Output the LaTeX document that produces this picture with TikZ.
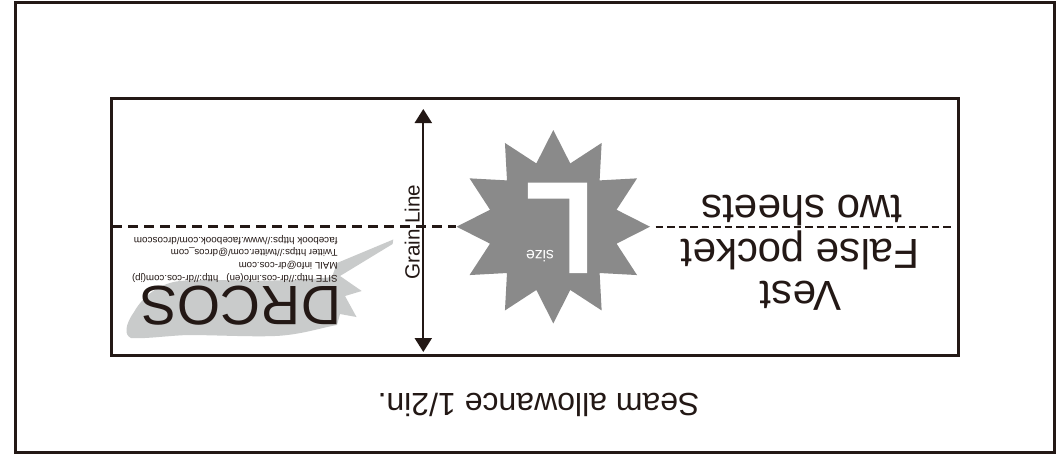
\documentclass[tikz,border=0pt]{standalone}
\usepackage{fontspec}
\setmainfont{Liberation Sans}
\usetikzlibrary{arrows.meta}
\definecolor{ink}{HTML}{231815}
\definecolor{stargray}{HTML}{8A8A8A}
\definecolor{blobgray}{HTML}{C9CBCB}
\tikzset{
  x=1pt,y=-1pt,
  frame/.style={draw=ink,line width=2.4pt,fill=none},
  flipped/.style={rotate=180,text=ink,inner sep=0pt,outer sep=0pt},
  foldleft/.style={draw=ink,line width=2.2pt,dash pattern=on 10pt off 6pt},
  foldright/.style={draw=ink,line width=2pt,dash pattern=on 7.5pt off 4pt},
  grainarrow/.style={draw=ink,line width=2.2pt,{Triangle[length=14pt,width=17pt]}-{Triangle[length=14pt,width=17pt]}},
}
\newcommand{\fs}[1]{\fontsize{#1}{#1}\selectfont}
\begin{document}
\begin{tikzpicture}
\useasboundingbox (0,0) rectangle (1057,458);
\fill[white] (0,0) rectangle (1057,458);
\draw[frame] (15.5,2.5) rectangle (1054.5,452.5);
% blob
\fill[blobgray] (393.3,239.5) -- (392.6,244) -- (340,276) -- (361.7,291) -- (345,296) -- (356.5,317) -- (340,314) -- (337,325)
  .. controls (320,328) and (300,335) .. (275,336)
  .. controls (250,337) and (215,335) .. (187,335)
  .. controls (165,336) and (145,339) .. (131,338)
  .. controls (124,335) and (125,325) .. (134,312)
  .. controls (143,296) and (160,283) .. (180,281)
  .. controls (210,278) and (280,284) .. (332,277)
  -- (337,263) -- cycle;
% fold line
\draw[foldleft] (112,226.5) -- (456,226.5);
\draw[foldright] (655.7,226.5) -- (952,226.5);
% star
\begin{scope}[shift={(553.3,226.7)}]
\fill[stargray] (0:96.7) -- (15:65.5) -- (30:96.7) -- (45:65.5) -- (60:96.7) -- (75:65.5) -- (90:96.7) -- (105:65.5) -- (120:96.7) -- (135:65.5) -- (150:96.7) -- (165:65.5) -- (180:96.7) -- (195:65.5) -- (210:96.7) -- (225:65.5) -- (240:96.7) -- (255:65.5) -- (270:96.7) -- (285:65.5) -- (300:96.7) -- (315:65.5) -- (330:96.7) -- (345:65.5) -- cycle;
\end{scope}
\node[flipped,anchor=base west,text=white] (bigL) at (594,183.3) {\scalebox{0.89}[1.02]{\fontspec{Liberation Sans}[FakeBold=1.2]\bfseries\fs{127}L}};
\node[flipped,anchor=base,text=white] (sizeT) at (540,250) {\fs{15.7}size};
% frame
\draw[frame] (111.5,98.5) rectangle (958.3,355.3);
% grain arrow
\coordinate (grainTop) at (423.3,109);
\coordinate (grainBot) at (423.3,352);
\draw[grainarrow] (grainTop) -- (grainBot);
\node[rotate=90,anchor=base west,text=ink,inner sep=0pt] (grain) at (419.5,280) {\fs{20.6}Grain Line};
% title
\node[flipped,anchor=base] (vest) at (801,281.7) {\fs{42}Vest};
\node[flipped,anchor=base] (fp) at (800,239) {\fs{42}False pocket};
\node[flipped,anchor=base] (two) at (802,195) {\fs{42}two sheets};
\node[flipped,anchor=base] (seam) at (538.5,393.5) {\fs{32}Seam allowance 1/2in.};
% logo
\node[flipped,anchor=base west] (logo) at (341,286) {\fs{55.5}DRCOS};
\node[flipped,anchor=base west] (site) at (337.5,275) {\fs{9.7}SITE http://dr-cos.info(en)\ \ \ http://dr-cos.com(jp)};
\node[flipped,anchor=base west] (mail) at (337.5,262.5) {\fs{9.7}MAIL info@dr-cos.com};
\node[flipped,anchor=base west] (twit) at (337.5,249.5) {\fs{9.7}Twitter https://twitter.com/@drcos\_com};
\node[flipped,anchor=base west] (fb) at (337.5,237.3) {\fs{9.9}facebook https://www.facebook.com/drcoscom};
\end{tikzpicture}
\end{document}
